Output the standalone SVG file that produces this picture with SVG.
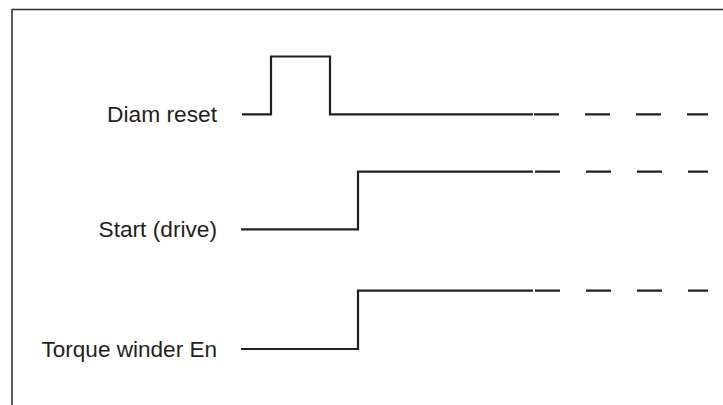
<svg xmlns="http://www.w3.org/2000/svg" width="723" height="405" viewBox="0 0 723 405">
<style>
.lbl{font-family:"Liberation Sans",Arial,sans-serif;font-size:22px;fill:#231f20;text-anchor:end}
.sig{fill:none;stroke:#231f20;stroke-width:2.2;stroke-linejoin:miter}
.dash{fill:none;stroke:#231f20;stroke-width:2.2;stroke-dasharray:25 26}
.frame{fill:none;stroke:#333;stroke-width:1.6}
</style>
<rect width="723" height="405" fill="#fff"/>
<path class="frame" d="M12 405 V9.5 H723"/>
<g id="diam-reset">
<text class="lbl" x="217" y="122" textLength="110" lengthAdjust="spacingAndGlyphs">Diam reset</text>
</g>
<g id="start-drive">
<text class="lbl" x="217" y="236.8" textLength="118.5" lengthAdjust="spacingAndGlyphs">Start (drive)</text>
</g>
<g id="torque-winder-en">
<text class="lbl" x="217" y="356.5" textLength="175.5" lengthAdjust="spacingAndGlyphs">Torque winder En</text>
</g>
<g id="connectors">
<path class="sig" d="M242 114.3 H271 V56.5 H330 V114.3 H533"/>
<line class="dash" x1="534" y1="114.3" x2="708" y2="114.3"/>
<path class="sig" d="M241 229.3 H358 V171.7 H533"/>
<line class="dash" x1="535" y1="171.7" x2="708" y2="171.7"/>
<path class="sig" d="M241 349 H358 V290.7 H533"/>
<line class="dash" x1="535" y1="290.7" x2="708" y2="290.7"/>
</g>
</svg>
